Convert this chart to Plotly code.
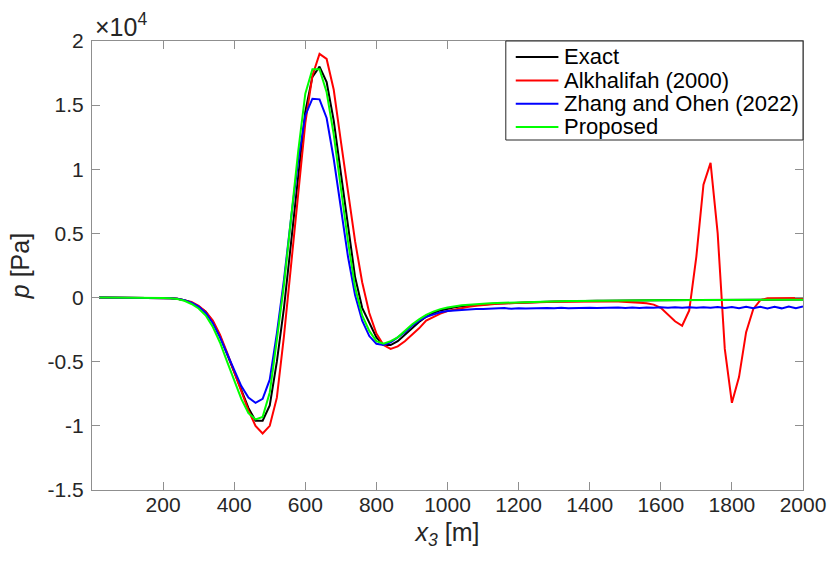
import plotly.graph_objects as go

# Depth samples x3 [m]
x3 = list(range(20, 2001, 20))

# Pressure traces, in units of 1e4 Pa
exact = [
    0, 0, 0, 0, 0, 0, 0, 0, -0.001, -0.002,
    -0.005, -0.01, -0.02, -0.04, -0.07, -0.11, -0.19, -0.30, -0.44, -0.58,
    -0.73, -0.86, -0.96, -0.96, -0.84, -0.50, -0.08, 0.42, 0.95, 1.45,
    1.72, 1.80, 1.68, 1.38, 0.97, 0.55, 0.16, -0.08, -0.20, -0.31,
    -0.37, -0.37, -0.34, -0.29, -0.24, -0.19, -0.15, -0.12, -0.10, -0.085,
    -0.075, -0.068, -0.062, -0.057, -0.053, -0.050, -0.047, -0.044, -0.042, -0.040,
    -0.038, -0.036, -0.034, -0.033, -0.031, -0.030, -0.029, -0.028, -0.027, -0.026,
    -0.025, -0.024, -0.024, -0.023, -0.022, -0.022, -0.021, -0.021, -0.020, -0.020,
    -0.020, -0.019, -0.019, -0.019, -0.018, -0.018, -0.018, -0.018, -0.017, -0.017,
    -0.017, -0.017, -0.016, -0.016, -0.016, -0.016, -0.016, -0.015, -0.015, -0.015,
]

alkhalifah = [
    0, 0, 0, 0, 0, 0, 0, 0, -0.001, -0.002,
    -0.005, -0.01, -0.02, -0.035, -0.065, -0.11, -0.18, -0.29, -0.43, -0.58,
    -0.74, -0.88, -1.00, -1.06, -1.00, -0.78, -0.30, 0.24, 0.82, 1.36,
    1.73, 1.90, 1.86, 1.62, 1.22, 0.82, 0.44, 0.12, -0.12, -0.28,
    -0.37, -0.40, -0.38, -0.34, -0.29, -0.24, -0.18, -0.15, -0.125, -0.105,
    -0.092, -0.080, -0.071, -0.064, -0.058, -0.053, -0.049, -0.046, -0.043, -0.041,
    -0.039, -0.037, -0.035, -0.034, -0.033, -0.032, -0.031, -0.030, -0.030, -0.029,
    -0.029, -0.029, -0.030, -0.031, -0.033, -0.036, -0.040, -0.045, -0.055, -0.08,
    -0.13, -0.185, -0.22, -0.10, 0.32, 0.88, 1.05, 0.50, -0.40, -0.82,
    -0.62, -0.27, -0.09, -0.02, -0.005, -0.004, -0.003, -0.004, -0.003, -0.004,
]

zhang_ohen = [
    0, 0, 0, 0, 0, 0, 0, 0, -0.001, -0.002,
    -0.005, -0.01, -0.02, -0.04, -0.07, -0.12, -0.20, -0.31, -0.44, -0.57,
    -0.69, -0.78, -0.82, -0.79, -0.64, -0.28, 0.14, 0.62, 1.07, 1.42,
    1.55, 1.545, 1.40, 1.08, 0.70, 0.32, 0.02, -0.18, -0.30, -0.36,
    -0.37, -0.35, -0.31, -0.27, -0.22, -0.18, -0.15, -0.13, -0.115, -0.105,
    -0.100, -0.095, -0.092, -0.090, -0.090, -0.088, -0.087, -0.082, -0.088, -0.083,
    -0.085, -0.082, -0.084, -0.081, -0.084, -0.080, -0.083, -0.080, -0.082, -0.079,
    -0.082, -0.079, -0.081, -0.078, -0.081, -0.077, -0.081, -0.077, -0.080, -0.076,
    -0.080, -0.076, -0.080, -0.075, -0.079, -0.075, -0.080, -0.074, -0.082, -0.073,
    -0.083, -0.072, -0.084, -0.072, -0.085, -0.072, -0.084, -0.070, -0.083, -0.070,
]

proposed = [
    0, 0, 0, 0, 0, 0, 0, 0, -0.001, -0.003,
    -0.006, -0.012, -0.025, -0.05, -0.085, -0.14, -0.23, -0.35, -0.50, -0.65,
    -0.79, -0.90, -0.95, -0.93, -0.74, -0.33, 0.10, 0.62, 1.14, 1.59,
    1.78, 1.78, 1.60, 1.27, 0.86, 0.44, 0.08, -0.14, -0.26, -0.34,
    -0.36, -0.34, -0.31, -0.26, -0.21, -0.17, -0.135, -0.11, -0.09, -0.077,
    -0.067, -0.060, -0.055, -0.050, -0.047, -0.044, -0.042, -0.040, -0.038, -0.036,
    -0.034, -0.033, -0.031, -0.030, -0.029, -0.028, -0.027, -0.026, -0.025, -0.024,
    -0.024, -0.023, -0.023, -0.022, -0.022, -0.021, -0.021, -0.020, -0.020, -0.020,
    -0.019, -0.019, -0.019, -0.019, -0.018, -0.018, -0.018, -0.018, -0.018, -0.017,
    -0.017, -0.017, -0.017, -0.017, -0.017, -0.017, -0.017, -0.017, -0.017, -0.017,
]

series_names = ["Exact", "Alkhalifah (2000)", "Zhang and Ohen (2022)", "Proposed"]
series_colors = ["#000000", "#ff0000", "#0000ff", "#00ff00"]
series_values = [exact, alkhalifah, zhang_ohen, proposed]

x_ticks = [200, 400, 600, 800, 1000, 1200, 1400, 1600, 1800, 2000]
y_ticks = [-1.5, -1, -0.5, 0, 0.5, 1, 1.5, 2]
y_tick_text = ["-1.5", "-1", "-0.5", "0", "0.5", "1", "1.5", "2"]
SCALE = 1e4

FONT = "Liberation Sans, Arial, Helvetica, sans-serif"
TEXT = "#262626"
AXIS = "#8f8f8f"

fig = go.Figure()
for name, color, vals in zip(series_names, series_colors, series_values):
    fig.add_trace(go.Scatter(
        x=x3, y=[v * SCALE for v in vals], mode="lines", name=name,
        line=dict(color=color, width=2), showlegend=False,
    ))

axis_common = dict(
    showgrid=False, zeroline=False, showline=True, linecolor=AXIS, linewidth=1,
    mirror="ticks", ticks="inside", ticklen=8, tickcolor=AXIS, tickwidth=1,
    tickfont=dict(family=FONT, size=21, color=TEXT),
)

# Boxed legend in the upper-right corner of the axes (paper coordinates)
leg_x0, leg_x1 = 0.582, 1.0
leg_y0, leg_y1 = 0.7795, 1.0
tok_x0, tok_x1 = 0.596, 0.656
txt_x = 0.661
row_y = [0.9644, 0.9120, 0.8604, 0.8085]

shapes = [dict(
    type="rect", xref="paper", yref="paper", x0=leg_x0, x1=leg_x1, y0=leg_y0, y1=leg_y1,
    line=dict(color=TEXT, width=1), fillcolor="white", layer="above",
)]
annotations = []
for name, color, yy in zip(series_names, series_colors, row_y):
    shapes.append(dict(
        type="line", xref="paper", yref="paper", x0=tok_x0, x1=tok_x1, y0=yy, y1=yy,
        line=dict(color=color, width=2), layer="above",
    ))
    annotations.append(dict(
        xref="paper", yref="paper", x=txt_x, y=yy, xanchor="left", yanchor="middle",
        text=name, showarrow=False, font=dict(family=FONT, size=22, color="#000000"),
    ))

# Common exponent of the y axis
annotations.append(dict(
    xref="paper", yref="paper", x=0.002, y=0.995, xanchor="left", yanchor="bottom",
    text="×10<sup>4</sup>", showarrow=False,
    font=dict(family=FONT, size=25, color=TEXT),
))

fig.update_layout(
    width=838, height=562,
    margin=dict(l=92, r=31, t=41, b=72),
    paper_bgcolor="white", plot_bgcolor="white",
    font=dict(family=FONT, color=TEXT),
    showlegend=False,
    xaxis=dict(
        range=[0, 2000], tickvals=x_ticks, ticklabelstandoff=-4,
        title=dict(text="<i>x<sub>3</sub></i> [m]", font=dict(family=FONT, size=25, color=TEXT), standoff=8),
        **axis_common,
    ),
    yaxis=dict(
        range=[-1.5 * SCALE, 2 * SCALE],
        tickvals=[t * SCALE for t in y_ticks], ticktext=y_tick_text, ticklabelstandoff=3,
        title=dict(text="<i>p</i> [Pa]", font=dict(family=FONT, size=25, color=TEXT), standoff=10),
        **axis_common,
    ),
    shapes=shapes,
    annotations=annotations,
)

fig.write_html("out.html")
